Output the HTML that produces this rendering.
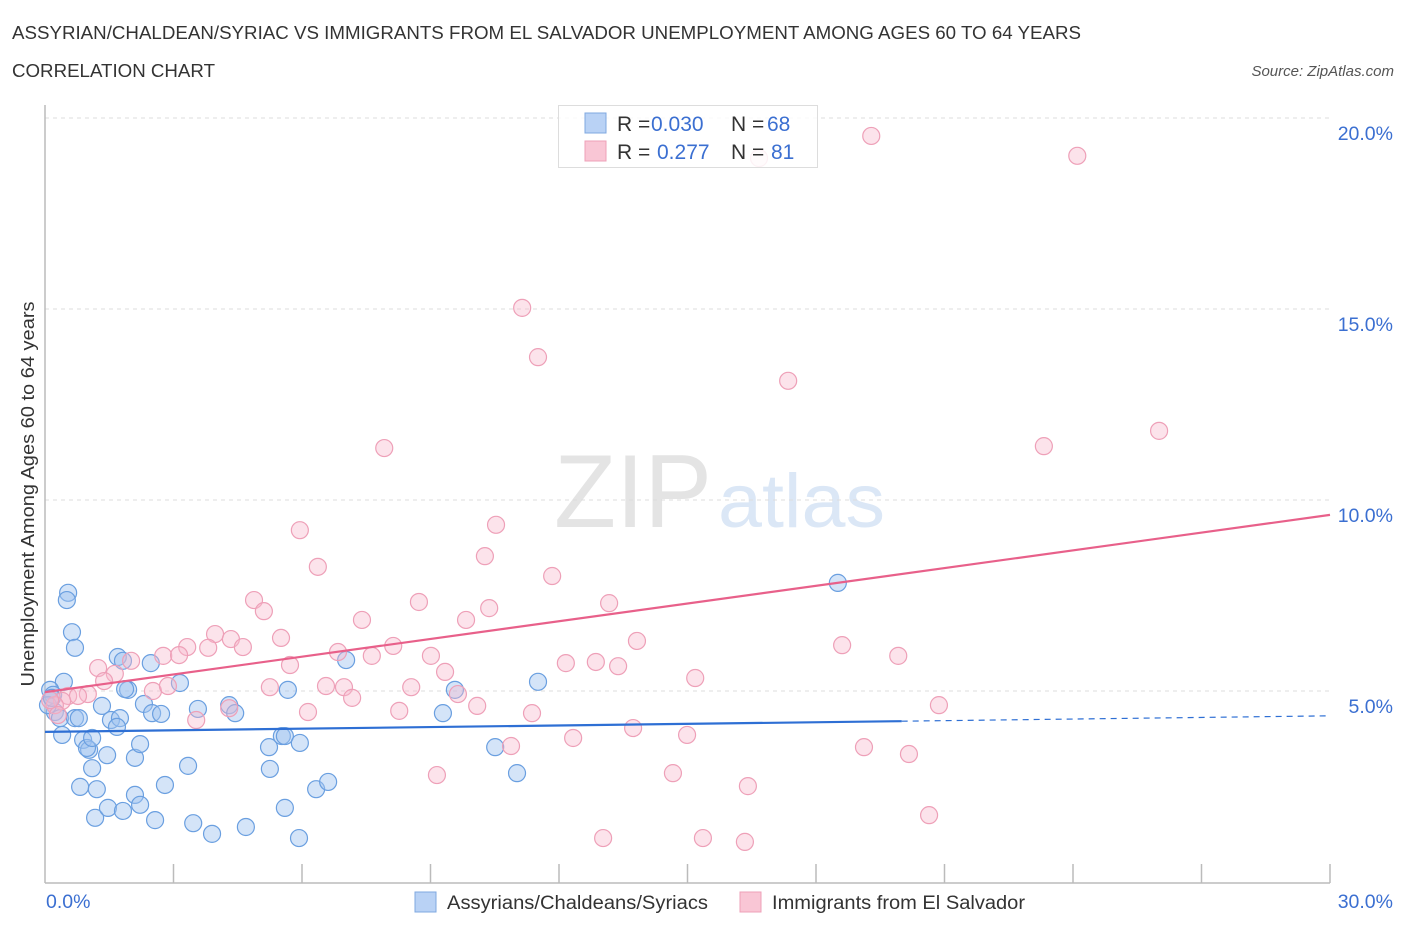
<!DOCTYPE html>
<html><head><meta charset="utf-8"><style>
body{margin:0;background:#fff;font-family:"Liberation Sans",sans-serif;}
svg text{font-family:"Liberation Sans",sans-serif;}
</style></head><body>
<svg id="c" width="1406" height="930" xmlns="http://www.w3.org/2000/svg">
<text x="12" y="39" font-size="18" fill="#333" textLength="1069" lengthAdjust="spacingAndGlyphs">ASSYRIAN/CHALDEAN/SYRIAC VS IMMIGRANTS FROM EL SALVADOR UNEMPLOYMENT AMONG AGES 60 TO 64 YEARS</text>
<text x="12" y="77" font-size="18" fill="#333" textLength="203" lengthAdjust="spacingAndGlyphs">CORRELATION CHART</text>
<text x="1394" y="76" font-size="15" fill="#555" font-style="italic" text-anchor="end">Source: ZipAtlas.com</text>
<g>
<text x="554" y="527" font-size="104" fill="#e4e4e4" font-family="Liberation Serif" textLength="158" lengthAdjust="spacingAndGlyphs">ZIP</text>
<text x="718" y="527" font-size="76" fill="#dbe7f6" textLength="167" lengthAdjust="spacingAndGlyphs">atlas</text>
</g>
<g id="grid"></g>
<g id="axes"></g>
<g id="pts"></g>
<g id="trend"></g>
<text transform="translate(34,494) rotate(-90)" font-size="18" fill="#333" text-anchor="middle" textLength="385" lengthAdjust="spacingAndGlyphs">Unemployment Among Ages 60 to 64 years</text>
<g>
<rect x="558.5" y="105.5" width="259" height="62" fill="rgba(255,255,255,0.85)" stroke="#ddd"/>
<rect x="585" y="113" width="21" height="20" fill="#b9d2f5" stroke="#7fa8e0"/>
<rect x="585" y="141" width="21" height="20" fill="#f9c6d5" stroke="#eea0b8"/>
<g font-size="21" fill="#333">
<text x="617" y="131">R =</text>
<text x="651" y="131" fill="#3b6fd1">0.030</text>
<text x="731" y="131">N =</text>
<text x="767" y="131" fill="#3b6fd1">68</text>
<text x="617" y="159">R =</text>
<text x="657" y="159" fill="#3b6fd1">0.277</text>
<text x="731" y="159">N =</text>
<text x="771" y="159" fill="#3b6fd1">81</text>
</g>
</g>
<g>
<rect x="415" y="892" width="21" height="20" fill="#b9d2f5" stroke="#7fa8e0"/>
<text x="447" y="909" font-size="19" fill="#333" textLength="261" lengthAdjust="spacingAndGlyphs">Assyrians/Chaldeans/Syriacs</text>
<rect x="740" y="892" width="21" height="20" fill="#f9c6d5" stroke="#eea0b8"/>
<text x="772" y="909" font-size="19" fill="#333" textLength="253" lengthAdjust="spacingAndGlyphs">Immigrants from El Salvador</text>
</g>
</svg>
<script>
const yTicks=[5,10,15,20];
const yTickLabels=["5.0%","10.0%","15.0%","20.0%"];
const xTickLabels=["0.0%","30.0%"];
const blueX=[0.54,0.51,0.63,0.70,0.44,0.12,0.19,0.23,0.35,0.40,0.70,0.79,0.89,1.03,1.10,0.82,1.21,1.17,1.47,1.82,2.10,2.22,2.57,2.80,3.34,3.46,3.90,4.69,5.93,6.33,6.61,5.25,5.60,5.23,5.53,5.60,5.95,5.67,7.03,3.15,2.47,1.94,1.87,1.70,1.82,1.33,1.54,1.75,1.68,1.45,2.10,2.22,0.98,1.10,2.31,2.50,2.71,3.57,4.30,4.44,9.57,9.29,10.51,11.02,11.51,18.51,0.07,0.16];
const blueY=[7.57,7.38,6.54,6.13,5.24,5.03,4.90,4.45,4.29,3.85,4.29,4.29,3.72,3.46,2.98,2.49,2.43,1.68,1.94,1.86,2.28,2.02,1.62,2.54,3.04,1.54,1.26,1.44,1.15,2.43,2.62,2.96,1.94,3.53,3.82,3.82,3.64,5.03,5.81,5.21,5.73,5.03,5.05,5.89,5.79,4.61,4.24,4.29,4.06,3.32,3.25,3.61,3.51,3.77,4.66,4.42,4.40,4.53,4.63,4.42,5.03,4.42,3.53,2.85,5.24,7.83,4.63,4.82];
const pinkX=[19.29,24.10,16.67,11.14,11.51,17.35,7.92,23.32,26.01,5.95,10.53,10.27,6.37,11.84,4.88,5.11,8.73,10.37,13.17,9.83,7.40,13.82,18.61,19.92,3.97,4.34,5.51,3.32,3.81,4.62,2.76,3.13,2.01,1.24,1.63,1.38,6.84,7.63,8.13,9.01,5.72,9.34,12.16,12.86,13.38,15.18,5.25,6.56,6.98,8.55,2.52,2.87,1.00,0.54,0.77,0.40,0.23,6.14,7.17,8.27,9.64,10.09,11.37,20.87,3.53,4.30,13.73,14.99,12.33,10.88,19.12,20.17,9.15,14.66,16.41,20.64,13.03,15.36,16.34,0.12,0.30];
const pinkY=[19.53,19.01,18.95,15.03,13.74,13.12,11.36,11.41,11.81,9.21,9.35,8.53,8.25,8.01,7.38,7.09,7.33,7.17,7.30,6.86,6.86,6.31,6.20,5.92,6.49,6.36,6.39,6.15,6.13,6.15,5.92,5.94,5.79,5.60,5.45,5.26,6.02,5.92,6.18,5.92,5.68,5.50,5.73,5.76,5.65,5.34,5.10,5.13,5.10,5.10,5.00,5.13,4.92,4.87,4.87,4.74,4.63,4.45,4.82,4.48,4.92,4.61,4.42,4.63,4.24,4.55,4.03,3.85,3.77,3.56,3.53,3.35,2.80,2.85,2.51,1.75,1.15,1.15,1.05,4.76,4.37];
const blueTrend=[3.93,4.35];
const pinkTrend=[4.97,9.61];
const blueSolidEnd=20;

const NS="http://www.w3.org/2000/svg";
const X=v=>45+v*(1285/30);
const Y=v=>882-v*38.2;
function mk(tag,attrs,parent){const e=document.createElementNS(NS,tag);for(const k in attrs)e.setAttribute(k,attrs[k]);parent.appendChild(e);return e;}
const grid=document.getElementById('grid'),axes=document.getElementById('axes'),pts=document.getElementById('pts'),trend=document.getElementById('trend');
yTicks.forEach((t,i)=>{
  const l=mk('line',{x1:45,x2:1330,y1:Y(t),y2:Y(t),stroke:'#ddd','stroke-dasharray':'4,4'},grid);
  
  
  const tx=mk('text',{x:1393,y:Y(t)+22,'font-size':19.5,fill:'#3b6fd1','text-anchor':'end'},axes);
  tx.textContent=yTickLabels[i];
  
  
});
const ax=mk('line',{x1:45,x2:45,y1:105,y2:883,stroke:'#bbb','stroke-width':1.5},axes);


const bx=mk('line',{x1:45,x2:1330,y1:883,y2:883,stroke:'#bbb','stroke-width':1.5},axes);


for(let i=1;i<=10;i++){
  const t=mk('line',{x1:X(i*3),x2:X(i*3),y1:864,y2:883,stroke:'#bbb','stroke-width':1.5},axes);
  
  
}
[[0,'start',46],[30,'end',1393]].forEach((d,i)=>{
  const tx=mk('text',{x:d[2],y:908,'font-size':19.5,fill:'#3b6fd1','text-anchor':d[1]},axes);
  tx.textContent=xTickLabels[i];
  
  
});
blueX.forEach((v,i)=>{
  const c=mk('circle',{cx:X(v),cy:Y(blueY[i]),r:8.5,fill:'rgba(160,196,240,0.45)',stroke:'#6a9fe0','stroke-width':1.2},pts);
  
  
});
pinkX.forEach((v,i)=>{
  const c=mk('circle',{cx:X(v),cy:Y(pinkY[i]),r:8.5,fill:'rgba(247,185,204,0.4)',stroke:'#eea0b8','stroke-width':1.2},pts);
  
  
});
const by=v=>blueTrend[0]+(blueTrend[1]-blueTrend[0])*v/30;
const t1=mk('line',{x1:X(0),y1:Y(by(0)),x2:X(blueSolidEnd),y2:Y(by(blueSolidEnd)),stroke:'#2e6fd4','stroke-width':2.2},trend);


const t2=mk('line',{x1:X(blueSolidEnd),y1:Y(by(blueSolidEnd)),x2:X(30),y2:Y(by(30)),stroke:'#2e6fd4','stroke-width':1.2,'stroke-dasharray':'6,5'},trend);


const t3=mk('line',{x1:X(0),y1:Y(pinkTrend[0]),x2:X(30),y2:Y(pinkTrend[1]),stroke:'#e8608a','stroke-width':2.2},trend);


</script>
</body></html>
